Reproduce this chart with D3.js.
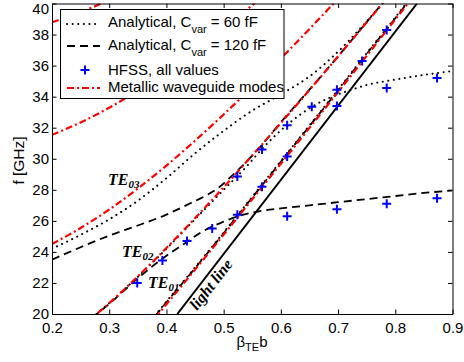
<!DOCTYPE html>
<html>
<head>
  <meta charset="utf-8">
  <script src="https://cdn.jsdelivr.net/npm/d3@7"></script>
  <style>
    body { margin: 0; background: #fff; }
    svg { display: block; font-family: "Liberation Sans", Arial, sans-serif; }
    .axis text { font-size: 15px; fill: #000; }
    .axis path, .axis line { stroke: #000; stroke-width: 1; }
    .mode { font-family: "Liberation Serif", "Times New Roman", serif; font-weight: bold; font-style: italic; fill: #000; }
  </style>
</head>
<body>
<svg id="chart" width="464" height="362"></svg>
<script>
// tick values
const xTicks = [0.2, 0.3, 0.4, 0.5, 0.6, 0.7, 0.8, 0.9];
const yTicks = [20, 22, 24, 26, 28, 30, 32, 34, 36, 38, 40];

// light line, [beta*b, f GHz]
const lightLine = [[0.419, 20], [0.838, 40]];

// metallic waveguide modes (red dash-dot)
const metalTE01 = [[0.38, 19.75], [0.39, 20.19], [0.40, 20.63], [0.45, 22.86], [0.50, 25.11], [0.55, 27.39], [0.60, 29.68], [0.65, 31.99], [0.70, 34.30], [0.75, 36.63], [0.80, 38.97], [0.84, 40.84]];
const metalTE02 = [[0.26, 19.44], [0.30, 20.70], [0.35, 22.42], [0.40, 24.25], [0.45, 26.17], [0.50, 28.16], [0.55, 30.21], [0.60, 32.30], [0.65, 34.43], [0.70, 36.59], [0.75, 38.79], [0.80, 41.00]];
const metalTE03 = [[0.20, 24.51], [0.25, 25.54], [0.30, 26.73], [0.35, 28.08], [0.40, 29.56], [0.45, 31.16], [0.50, 32.85], [0.55, 34.62], [0.60, 36.46], [0.65, 38.36], [0.70, 40.31]];
const metalTE04 = [[0.20, 31.54], [0.25, 32.34], [0.30, 33.29], [0.35, 34.39], [0.40, 35.61], [0.45, 36.94], [0.50, 38.38], [0.55, 39.90], [0.60, 41.50]];
const metalTE05 = [[0.20, 38.79], [0.25, 39.44], [0.30, 40.23]];

// analytical, Cvar = 60 fF (dotted)
const c60TE01 = [[0.38, 19.9], [0.40, 20.8], [0.45, 23.0], [0.50, 25.25], [0.55, 27.55], [0.60, 29.85], [0.65, 32.15], [0.70, 34.45], [0.75, 36.8], [0.80, 39.1], [0.84, 41.0]];
const c60TE02 = [[0.27, 19.75], [0.30, 20.7], [0.35, 22.4], [0.40, 24.2], [0.45, 26.1], [0.50, 28.0], [0.54, 29.5], [0.57, 30.75], [0.61, 32.15], [0.65, 33.25], [0.68, 33.85], [0.70, 34.15], [0.72, 34.4], [0.75, 34.75], [0.80, 35.1], [0.85, 35.4], [0.90, 35.65]];
const c60TE03 = [[0.20, 24.2], [0.25, 25.1], [0.30, 26.1], [0.35, 27.3], [0.40, 28.75], [0.45, 30.35], [0.50, 31.8], [0.55, 33.1], [0.60, 34.15], [0.65, 35.3], [0.69, 36.55], [0.72, 37.65], [0.75, 38.85], [0.78, 40.1]];

// analytical, Cvar = 120 fF (dashed)
const c120TE01 = [[0.38, 19.85], [0.40, 20.75], [0.45, 22.95], [0.50, 25.2], [0.55, 27.5], [0.60, 29.8], [0.65, 32.1], [0.70, 34.4], [0.75, 36.75], [0.80, 39.05], [0.84, 40.95]];
const c120TE02 = [[0.27, 19.75], [0.30, 20.65], [0.35, 22.3], [0.38, 23.2], [0.40, 23.75], [0.43, 24.5], [0.46, 25.25], [0.50, 25.95], [0.53, 26.35], [0.56, 26.6], [0.60, 26.8], [0.65, 27.0], [0.70, 27.2], [0.75, 27.4], [0.80, 27.6], [0.85, 27.8], [0.90, 27.95]];
const c120TE03 = [[0.20, 23.5], [0.25, 24.3], [0.30, 25.05], [0.35, 25.7], [0.40, 26.4], [0.44, 27.1], [0.47, 27.65], [0.49, 28.1], [0.51, 28.75], [0.53, 29.45], [0.56, 30.6], [0.60, 32.35], [0.65, 34.45], [0.70, 36.6], [0.75, 38.8], [0.80, 41.0]];

// HFSS, all values
const hfssX = [0.349, 0.393, 0.436, 0.480, 0.524, 0.611, 0.698, 0.785, 0.873, 0.524, 0.567, 0.567, 0.611, 0.611, 0.654, 0.698, 0.698, 0.742, 0.785, 0.785, 0.873];
const hfssF = [22.0, 23.45, 24.7, 25.5, 26.4, 26.3, 26.75, 27.1, 27.45, 28.85, 28.2, 30.6, 30.15, 32.15, 33.35, 33.4, 34.45, 36.3, 38.3, 34.55, 35.2];

const legendLabels = ["Analytical, C|var| = 60 fF", "Analytical, C|var| = 120 fF", "HFSS, all values", "Metallic waveguide modes"];

const styles = {
  dotted: { stroke: "#000", width: 2, dash: "0.1 5.5", cap: "round" },
  dashed: { stroke: "#000", width: 1.8, dash: "8 5", cap: "butt" },
  metal: { stroke: "#ff0000", width: 2.2, dash: "7 3 2 3", cap: "butt" },
  light: { stroke: "#000", width: 2, dash: null, cap: "butt" }
};

const series = [
  { data: c60TE01, s: styles.dotted }, { data: c60TE02, s: styles.dotted }, { data: c60TE03, s: styles.dotted },
  { data: c120TE01, s: styles.dashed }, { data: c120TE02, s: styles.dashed }, { data: c120TE03, s: styles.dashed },
  { data: lightLine, s: styles.light },
  { data: metalTE01, s: styles.metal }, { data: metalTE02, s: styles.metal }, { data: metalTE03, s: styles.metal },
  { data: metalTE04, s: styles.metal }, { data: metalTE05, s: styles.metal }
];

const svg = d3.select('#chart');
const x = d3.scaleLinear().domain([0.2, 0.9]).range([52, 452.5]);
const y = d3.scaleLinear().domain([20, 40]).range([314, 3.5]);

svg.append('defs').append('clipPath').attr('id', 'plotclip')
  .append('rect')
  .attr('x', x(0.2)).attr('y', y(40))
  .attr('width', x(0.9) - x(0.2)).attr('height', y(20) - y(40));

const line = d3.line().x(d => x(d[0])).y(d => y(d[1])).curve(d3.curveMonotoneX);

const plot = svg.append('g').attr('clip-path', 'url(#plotclip)');
plot.selectAll('path.curve').data(series).enter().append('path')
  .attr('class', 'curve')
  .attr('d', d => line(d.data))
  .attr('fill', 'none')
  .attr('stroke', d => d.s.stroke)
  .attr('stroke-width', d => d.s.width)
  .attr('stroke-dasharray', d => d.s.dash)
  .attr('stroke-linecap', d => d.s.cap);

const plus = 'M-4.5,0H4.5M0,-4.5V4.5';
plot.selectAll('path.hfss').data(hfssX).enter().append('path')
  .attr('class', 'hfss')
  .attr('transform', (d, i) => `translate(${x(d)},${y(hfssF[i])})`)
  .attr('d', plus)
  .attr('stroke', '#0000ff').attr('stroke-width', 2).attr('fill', 'none');

// axes, ticks pointing inward on all four sides
const tk = 4.5;
svg.append('g').attr('class', 'axis').attr('transform', `translate(0,${y(20)})`)
  .call(d3.axisBottom(x).tickValues(xTicks).tickFormat(d3.format('.1f')).tickSizeInner(-tk).tickSizeOuter(0).tickPadding(8));
svg.append('g').attr('class', 'axis').attr('transform', `translate(0,${y(40)})`)
  .call(d3.axisTop(x).tickValues(xTicks).tickFormat('').tickSizeInner(-tk).tickSizeOuter(0));
const yAxis = svg.append('g').attr('class', 'axis').attr('transform', `translate(${x(0.2)},0)`)
  .call(d3.axisLeft(y).tickValues(yTicks).tickFormat(d3.format('d')).tickSizeInner(-tk).tickSizeOuter(0).tickPadding(3));
// keep the top label inside the page
yAxis.selectAll('.tick text').filter(d => d === 40).attr('dy', '0.68em');
svg.append('g').attr('class', 'axis').attr('transform', `translate(${x(0.9)},0)`)
  .call(d3.axisRight(y).tickValues(yTicks).tickFormat('').tickSizeInner(-tk).tickSizeOuter(0));

// axis titles
const xl = svg.append('text').attr('x', 252).attr('y', 347).attr('text-anchor', 'middle').attr('font-size', 15);
xl.append('tspan').text('β');
xl.append('tspan').attr('font-size', 11).attr('dy', 4).text('TE');
xl.append('tspan').attr('dy', -4).text('b');

svg.append('text').attr('transform', 'translate(24,160.5) rotate(-90)')
  .attr('text-anchor', 'middle').attr('font-size', 15.5).text('f [GHz]');

// mode labels
const modeLabels = [
  { x: 108, y: 185, n: '03' },
  { x: 122, y: 257, n: '02' },
  { x: 148, y: 288, n: '01' }
];
modeLabels.forEach(m => {
  const t = svg.append('text').attr('class', 'mode').attr('x', m.x).attr('y', m.y).attr('font-size', 16);
  t.append('tspan').text('TE');
  t.append('tspan').attr('font-size', 11).attr('dy', 3).text(m.n);
});
svg.append('text').attr('class', 'mode').attr('font-size', 16)
  .attr('transform', 'translate(197,311) rotate(-52)').text('light line');

// legend
const lg = svg.append('g');
lg.append('rect').attr('x', 60.5).attr('y', 9.5).attr('width', 223.5).attr('height', 89)
  .attr('fill', '#fff').attr('stroke', '#000').attr('stroke-width', 1);
const rows = [
  { sy: 24, ty: 27, s: styles.dotted },
  { sy: 46, ty: 50, s: styles.dashed },
  { sy: 70, ty: 75, s: null },
  { sy: 88, ty: 92, s: styles.metal }
];
rows.forEach((r, i) => {
  if (r.s) {
    lg.append('line').attr('x1', 67).attr('x2', 100).attr('y1', r.sy).attr('y2', r.sy)
      .attr('stroke', r.s.stroke).attr('stroke-width', r.s.width)
      .attr('stroke-dasharray', r.s.dash).attr('stroke-linecap', r.s.cap);
  } else {
    lg.append('path').attr('transform', `translate(85,${r.sy})`).attr('d', plus)
      .attr('stroke', '#0000ff').attr('stroke-width', 2);
  }
  const parts = legendLabels[i].split('|');
  const t = lg.append('text').attr('x', 108).attr('y', r.ty).attr('font-size', 15);
  t.append('tspan').text(parts[0]);
  if (parts.length > 1) {
    t.append('tspan').attr('font-size', 11).attr('dy', 6).text(parts[1]);
    t.append('tspan').attr('dy', -6).text(parts[2]);
  }
});
</script>
</body>
</html>
